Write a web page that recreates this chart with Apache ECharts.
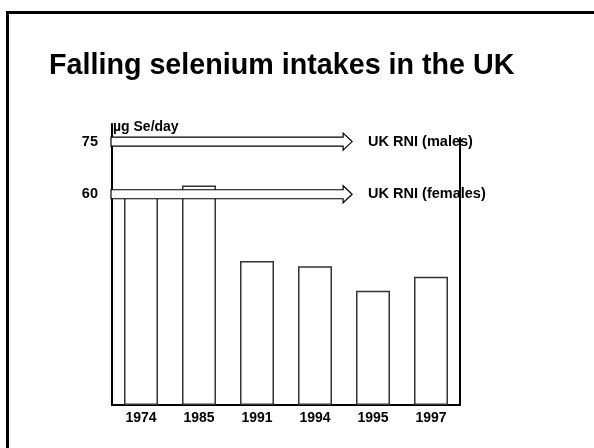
<!DOCTYPE html>
<html lang="en" style="height: 100%">
<head>
    <meta charset="utf-8">
</head>
<body style="height: 100%; margin: 0">
<div id="container" style="width: 594px; height: 448px"></div>

<script type="text/javascript" src="https://fastly.jsdelivr.net/npm/echarts@6/dist/echarts.min.js"></script>

<script type="text/javascript">
    // survey years and selenium intake (µg Se/day)
    var years = ['1974', '1985', '1991', '1994', '1995', '1997'];
    var intakes = [60, 62.5, 41, 39.5, 32.5, 36.5];
    // reference nutrient intakes
    var rniValues = [75, 60];
    var rniNames = ['UK RNI (males)', 'UK RNI (females)'];
    // only these ticks carry a label
    var yTickLabels = [60, 75];

    var FONT = '"Liberation Sans", Arial, sans-serif';

    var dom = document.getElementById('container');
    var myChart = echarts.init(dom, null, { renderer: 'canvas' });

    // hollow block arrow with its label
    function renderArrow(params, api) {
        var v = api.value(1);
        var start = api.coord([0, v]);
        var end = api.coord([0.69, v]);
        var x0 = start[0] - 1, x1 = end[0], cy = start[1];
        var h = 4.5, hh = 8.5, head = 9;
        return {
            type: 'group',
            children: [
                {
                    type: 'polygon',
                    shape: {
                        points: [
                            [x0, cy - h], [x1 - head, cy - h], [x1 - head, cy - hh],
                            [x1, cy], [x1 - head, cy + hh], [x1 - head, cy + h], [x0, cy + h]
                        ]
                    },
                    style: { fill: '#fff', stroke: '#000', lineWidth: 1.2 }
                },
                {
                    type: 'text',
                    x: x1 + 16,
                    y: cy,
                    style: {
                        text: rniNames[params.dataIndex],
                        fill: '#000',
                        font: 'bold 14.5px ' + FONT,
                        verticalAlign: 'middle'
                    }
                }
            ]
        };
    }

    var option = {
        animation: false,
        backgroundColor: '#fff',
        title: {
            text: 'Falling selenium intakes in the UK',
            left: 49,
            top: 52,
            padding: 0,
            textStyle: { fontSize: 28.7, fontWeight: 'bold', color: '#000', fontFamily: FONT }
        },
        graphic: [{
            type: 'rect',
            shape: { x: 7.5, y: 12.5, width: 700, height: 600 },
            style: { fill: null, stroke: '#000', lineWidth: 3 }
        }],
        grid: [
            { left: 112, right: 134, top: 124, bottom: 43 },
            // the right frame line starts a little lower
            { left: 112, right: 134, top: 138, bottom: 43 }
        ],
        xAxis: [{
            type: 'category',
            data: years,
            axisLine: { lineStyle: { color: '#000', width: 2 } },
            axisTick: { show: false },
            axisLabel: { color: '#000', fontWeight: 'bold', fontSize: 14, fontFamily: FONT, margin: 6 }
        }, {
            type: 'value',
            min: 0,
            max: 1,
            show: false
        }, {
            type: 'value',
            gridIndex: 1,
            min: 0,
            max: 1,
            show: false
        }],
        yAxis: [{
            type: 'value',
            min: 0,
            max: 80,
            interval: 15,
            name: 'µg Se/day',
            nameLocation: 'end',
            nameGap: -3,
            nameTextStyle: {
                color: '#000', fontWeight: 'bold', fontSize: 14, fontFamily: FONT,
                align: 'left', verticalAlign: 'middle', padding: [0, 0, 0, 1]
            },
            axisLine: { show: true, lineStyle: { color: '#000', width: 2 } },
            axisTick: { show: false },
            splitLine: { show: false },
            axisLabel: {
                color: '#000', fontWeight: 'bold', fontSize: 14.5, fontFamily: FONT, margin: 14,
                padding: [4, 0, 0, 0],
                formatter: function (v) { return yTickLabels.indexOf(v) >= 0 ? String(v) : ''; }
            }
        }, {
            type: 'value',
            gridIndex: 1,
            position: 'right',
            min: 0,
            max: 1,
            axisLine: { show: true, onZero: false, lineStyle: { color: '#000', width: 2 } },
            axisTick: { show: false },
            axisLabel: { show: false },
            splitLine: { show: false }
        }],
        series: [{
            type: 'bar',
            data: intakes,
            barWidth: 34,
            z: 2,
            itemStyle: { color: '#fff', borderColor: '#333', borderWidth: 1.5 }
        }, {
            type: 'custom',
            xAxisIndex: 1,
            yAxisIndex: 0,
            z: 5,
            renderItem: renderArrow,
            data: rniValues.map(function (v) { return [0, v]; })
        }]
    };

    myChart.setOption(option);
    window.addEventListener('resize', myChart.resize);
</script>
</body>
</html>
